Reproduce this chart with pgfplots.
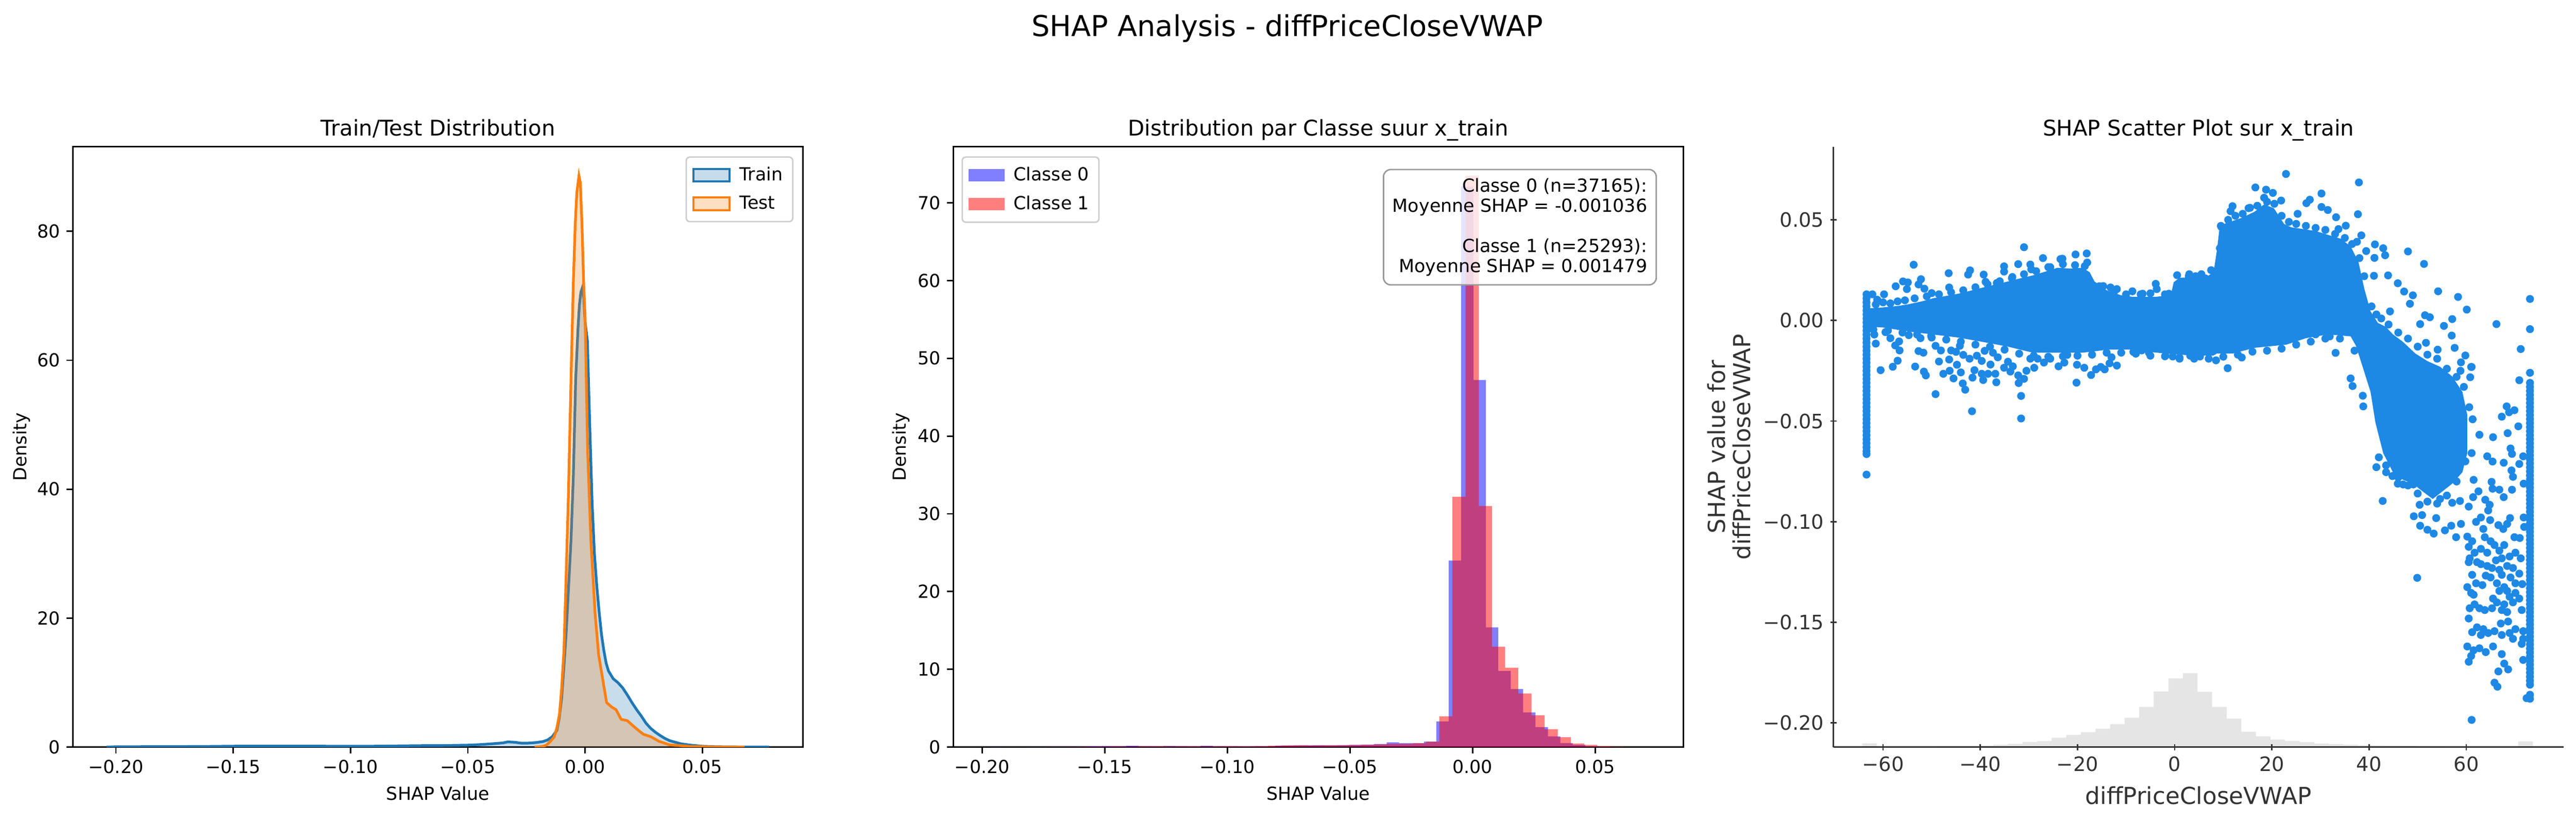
\documentclass[border=0pt]{standalone}
\usepackage{pgfplots}
\pgfplotsset{compat=1.18}
\usepackage{pgfplotstable}
\usepackage{fontspec}
\setmainfont{DejaVu Sans}
\definecolor{tblue}{HTML}{1F77B4}
\definecolor{torange}{HTML}{FF7F0E}
\definecolor{shapblue}{HTML}{1E88E5}
\definecolor{spinegray}{HTML}{333333}
\newcommand{\tenpt}{\fontsize{10pt}{12pt}\selectfont}
\newcommand{\elevenpt}{\fontsize{11pt}{13.2pt}\selectfont}
\newcommand{\twelvept}{\fontsize{12pt}{14.4pt}\selectfont}
\newcommand{\thirteenpt}{\fontsize{13pt}{14pt}\selectfont}
\newcommand{\sixteenpt}{\fontsize{16pt}{19.2pt}\selectfont}

\pgfplotsset{mpl/.style={
  scale only axis, width=405.84pt, height=333.6pt, anchor=south west,
  axis line style={line width=0.8pt},
  every tick/.style={black, line width=0.8pt},
  major tick length=3.5pt, tick align=outside, tick pos=left,
  minor tick num=0, scaled ticks=false,
  ticklabel style={font=\tenpt},
  every axis title/.style={at={(0.5,1)}, anchor=base, yshift=6pt, font=\twelvept},
}}

% ---------- KDE (panel 1) ----------
\pgfplotstableread{
x y
-0.2040 0
-0.2000 0.05
-0.1900 0.06
-0.1800 0.07
-0.1700 0.08
-0.1600 0.10
-0.1500 0.14
-0.1400 0.15
-0.1300 0.16
-0.1200 0.15
-0.1100 0.14
-0.1000 0.13
-0.0900 0.14
-0.0800 0.18
-0.0700 0.22
-0.0600 0.24
-0.0500 0.30
-0.0450 0.38
-0.0400 0.50
-0.0350 0.65
-0.0330 0.80
-0.0300 0.75
-0.0270 0.60
-0.0240 0.62
-0.0210 0.70
-0.0180 0.85
-0.0160 1.1
-0.0140 1.6
-0.0120 2.6
-0.0110 4.5
-0.0100 7.5
-0.0090 12.5
-0.0080 18.0
-0.0070 25.0
-0.0060 32.0
-0.0050 42.0
-0.0040 57.0
-0.0030 65.0
-0.0024 68.6
-0.0018 70.5
-0.0011 71.3
-0.0005 69.5
0.0000 66.0
0.0010 63.0
0.0020 50.0
0.0030 38.0
0.0040 30.0
0.0050 25.0
0.0060 21.0
0.0070 17.5
0.0080 15.0
0.0090 13.0
0.0100 11.8
0.0120 10.6
0.0140 10.0
0.0160 9.2
0.0180 8.1
0.0200 6.9
0.0220 5.8
0.0240 4.8
0.0260 3.7
0.0280 2.9
0.0300 2.3
0.0320 1.8
0.0340 1.35
0.0360 1.0
0.0380 0.8
0.0410 0.5
0.0450 0.3
0.0500 0.13
0.0550 0.06
0.0600 0.03
0.0700 0.01
0.0785 0
}\trainkde

\pgfplotstableread{
x y
-0.0215 0
-0.0200 0.02
-0.0180 0.10
-0.0165 0.30
-0.0150 0.80
-0.0131 1.6
-0.0120 3.0
-0.0109 5.1
-0.0100 9.0
-0.0090 15.0
-0.0082 24.9
-0.0071 39.0
-0.0058 60.0
-0.0050 72.0
-0.0042 81.0
-0.0035 86.0
-0.0026 88.6
-0.0020 87.5
-0.0013 81.0
-0.0006 72.0
0.0000 67.0
0.0011 46.0
0.0025 31.9
0.0043 20.6
0.0058 14.3
0.0074 10.8
0.0092 6.9
0.0114 6.2
0.0132 5.8
0.0154 4.3
0.0180 4.1
0.0214 3.0
0.0248 2.0
0.0281 1.6
0.0315 0.9
0.0360 0.35
0.0450 0.10
0.0550 0.03
0.0680 0
}\testkde

% ---------- histograms (panel 2), left bin edges ----------
\pgfplotstableread{
x y
-0.19689 0.03
-0.19183 0.02
-0.18677 0.02
-0.18171 0.03
-0.17666 0.03
-0.17160 0.05
-0.16654 0.05
-0.16148 0.06
-0.15642 0.12
-0.15137 0.13
-0.14631 0.14
-0.14125 0.17
-0.13619 0.13
-0.13113 0.12
-0.12608 0.15
-0.12102 0.13
-0.11596 0.12
-0.11090 0.16
-0.10584 0.12
-0.10079 0.12
-0.09573 0.10
-0.09067 0.11
-0.08561 0.10
-0.08055 0.18
-0.07550 0.20
-0.07044 0.22
-0.06538 0.24
-0.06032 0.22
-0.05526 0.25
-0.05021 0.28
-0.04515 0.32
-0.04009 0.40
-0.03503 0.62
-0.02997 0.50
-0.02492 0.50
-0.01986 0.70
-0.01480 3.3
-0.00974 24.0
-0.00468 72.1
0.00038 47.2
0.00543 15.4
0.01049 9.8
0.01555 7.45
0.02061 4.46
0.02566 2.56
0.03072 1.38
0.03578 0.52
0.04084 0.28
0.04590 0.10
0.05095 0.04
0.05601 0
}\histzero

\pgfplotstableread{
x y
-0.19617 0.02
-0.19080 0.00
-0.18543 0.02
-0.18006 0.02
-0.17469 0.03
-0.16932 0.04
-0.16395 0.05
-0.15858 0.06
-0.15321 0.08
-0.14784 0.10
-0.14247 0.08
-0.13710 0.10
-0.13173 0.12
-0.12636 0.10
-0.12099 0.10
-0.11562 0.12
-0.11025 0.10
-0.10488 0.12
-0.09951 0.12
-0.09414 0.10
-0.08877 0.14
-0.08340 0.18
-0.07803 0.22
-0.07266 0.24
-0.06729 0.22
-0.06192 0.24
-0.05655 0.24
-0.05118 0.26
-0.04581 0.30
-0.04044 0.35
-0.03507 0.42
-0.02970 0.42
-0.02433 0.50
-0.01896 0.70
-0.01359 3.94
-0.00822 32.2
-0.00285 73.5
0.00252 31.0
0.00789 12.9
0.01326 10.2
0.01863 6.9
0.02400 4.1
0.02937 2.3
0.03474 1.28
0.04011 0.47
0.04548 0.28
0.05085 0.14
0.05622 0.05
0.06159 0.02
0.06696 0.01
0.07233 0
}\histone

% ---------- feature histogram behind scatter (panel 3), heights in px ----------
\pgfplotstableread{
x h
-64.3 8.7
-61.3 1.5
-58.3 1.5
-55.3 1.5
-52.3 1.5
-49.3 2.2
-46.3 2.2
-43.3 2.2
-40.3 3.3
-37.3 5.4
-34.3 7.6
-31.3 12
-28.3 14
-25.3 21.7
-22.3 28
-19.3 34.7
-16.3 42.3
-13.3 53
-10.3 68
-7.3 93
-4.3 129
-1.3 159
1.7 171
4.7 128
7.7 93
10.7 66
13.7 35.5
16.7 24.8
19.7 17.7
22.7 14.2
25.7 11.5
28.7 8.5
31.7 7
34.7 5.5
37.7 4.5
40.7 4
43.7 3.5
46.7 3
49.7 2.5
52.7 2
55.7 1.5
58.7 1.5
61.7 1
64.7 1
67.7 1
70.7 13
73.7 0
}\feathist

% ---------- dense core of the scatter (outline of the solid region) ----------
\pgfplotstableread{
x y
-63.0 0.0060
-60 0.0065
-57 0.0072
-54.7 0.0081
-52 0.0095
-49.6 0.0111
-47 0.0122
-44.5 0.0133
-42 0.0148
-39.4 0.0164
-37 0.0178
-34.3 0.0194
-32 0.0208
-29.2 0.0224
-27 0.0240
-24.1 0.0262
-21.5 0.0258
-19 0.0262
-17.5 0.0240
-16.5 0.0194
-13.9 0.0149
-11 0.0125
-8.8 0.0118
-3.7 0.0118
-0.8 0.0126
-0.2 0.0190
1 0.0212
4 0.0216
6.5 0.0216
8.0 0.0240
8.7 0.0350
9.2 0.0454
10.2 0.0480
13.8 0.0510
16.4 0.0540
18.4 0.0577
20.4 0.0558
22.5 0.0480
24 0.0463
26.5 0.0454
29.1 0.0444
31.6 0.0425
34.2 0.0406
36.2 0.0368
37.8 0.0292
39.0 0.0159
40.3 0.0045
41.8 -0.0012
43.4 -0.0031
44.9 -0.0069
47 -0.0107
49.5 -0.0164
52 -0.0202
54.6 -0.0230
57.1 -0.0278
59.2 -0.0355
60.2 -0.0469
60.2 -0.0659
59.2 -0.0754
57.1 -0.0811
55.1 -0.0849
53.1 -0.0887
51 -0.0849
49 -0.0811
47 -0.0792
44.9 -0.0754
42.9 -0.0659
41.3 -0.0507
40.3 -0.0355
38.8 -0.0240
37.3 -0.0126
36.2 -0.0079
31.6 -0.0069
27 -0.0088
23 -0.0120
16.4 -0.0136
12 -0.0164
8.7 -0.0164
8 -0.0174
4 -0.0174
1 -0.0170
-3.7 -0.0160
-8.8 -0.0145
-13.9 -0.0145
-17 -0.0155
-19 -0.0160
-24.1 -0.0160
-29.2 -0.0160
-34.3 -0.0130
-39.4 -0.0107
-44.5 -0.0085
-49.6 -0.0070
-54.7 -0.0055
-60 -0.0035
-63.0 -0.0030
}\core

% ---------- individual scatter points ----------
\pgfplotstableread{
x y
-63.4 0.013
-63.4 0.011
-63.4 0.009
-63.4 0.007
-63.4 0.005
-63.4 0.003
-63.4 0.001
-63.4 -0.001
-63.4 -0.003
-63.4 -0.005
-63.4 -0.007
-63.4 -0.009
-63.4 -0.011
-63.4 -0.013
-63.4 -0.015
-63.4 -0.017
-63.4 -0.019
-63.4 -0.021
-63.4 -0.023
-63.4 -0.025
-63.4 -0.027
-63.4 -0.029
-63.4 -0.031
-63.4 -0.033
-63.4 -0.035
-63.4 -0.037
-63.4 -0.039
-63.4 -0.041
-63.4 -0.043
-63.4 -0.045
-63.4 -0.047
-63.4 -0.049
-63.4 -0.051
-63.4 -0.053
-63.4 -0.055
-63.4 -0.057
-63.4 -0.059
-63.4 -0.061
-63.4 -0.063
-63.4 -0.065
-63.4 -0.0664
-63.4 -0.0766
73.1 0.0107
73.1 -0.0043
73.1 -0.026
73.1 -0.031
73.1 -0.033
73.1 -0.035
73.1 -0.037
73.1 -0.039
73.1 -0.041
73.1 -0.043
73.1 -0.045
73.1 -0.047
73.1 -0.049
73.1 -0.051
73.1 -0.053
73.1 -0.055
73.1 -0.057
73.1 -0.059
73.1 -0.061
73.1 -0.063
73.1 -0.065
73.1 -0.067
73.1 -0.069
73.1 -0.071
73.1 -0.073
73.1 -0.075
73.1 -0.077
73.1 -0.079
73.1 -0.081
73.1 -0.083
73.1 -0.085
73.1 -0.087
73.1 -0.089
73.1 -0.091
73.1 -0.093
73.1 -0.095
73.1 -0.097
73.1 -0.099
73.1 -0.101
73.1 -0.103
73.1 -0.105
73.1 -0.107
73.1 -0.109
73.1 -0.111
73.1 -0.113
73.1 -0.115
73.1 -0.117
73.1 -0.119
73.1 -0.121
73.1 -0.123
73.1 -0.125
73.1 -0.127
73.1 -0.129
73.1 -0.131
73.1 -0.133
73.1 -0.135
73.1 -0.137
73.1 -0.139
73.1 -0.141
73.1 -0.143
73.1 -0.145
73.1 -0.147
73.1 -0.149
73.1 -0.151
73.1 -0.153
73.1 -0.155
73.1 -0.157
73.1 -0.159
73.1 -0.161
73.1 -0.163
73.1 -0.165
73.1 -0.167
73.1 -0.169
73.1 -0.171
73.1 -0.173
73.1 -0.175
73.1 -0.177
73.1 -0.179
73.1 -0.181
73.1 -0.186
73.1 -0.188
-62.2 0.0130
-59.8 0.0130
-61.2 0.0103
-57.4 0.0170
-55.9 0.0194
-54.9 0.0189
-55.1 0.0156
-53.7 0.0277
-52.2 0.0205
-52.7 0.0179
-51.5 0.0158
-50.0 0.0136
-46.5 0.0235
-46.4 0.0164
-42.1 0.0249
-42.5 0.0228
-39.3 0.0228
-38.9 0.0192
-36.6 0.0186
-35.1 0.0269
-35.1 0.0243
-33.4 0.0216
-32.2 0.0280
-31.0 0.0364
-29.7 0.0278
-29.5 0.0254
-27.1 0.0310
-25.6 0.0265
-23.5 0.0305
-23.1 0.0307
-20.4 0.0328
-18.1 0.0333
-18.0 0.0288
-14.7 0.0171
-13.2 0.0164
-11.9 0.0156
-8.7 0.0145
-6.6 0.0133
-3.9 0.0182
-3.7 0.0156
-1.2 0.0133
1.3 0.0186
2.9 0.0220
4.3 0.0220
6.3 0.0209
9.3 0.0359
-61.8 -0.0070
-61.5 -0.0115
-60.5 -0.0247
-59.5 -0.0058
-58.5 -0.0088
-57.5 -0.0124
-56.7 -0.0104
-56.6 -0.0149
-57.0 -0.0200
-58.0 -0.0230
-54.7 -0.0073
-52.7 -0.0152
-51.7 -0.0160
-53.4 -0.0229
-51.6 -0.0254
-51.2 -0.0273
-52.3 -0.0088
-50.1 -0.0077
-49.2 -0.0126
-48.1 -0.0149
-48.5 -0.0204
-49.2 -0.0366
-47.6 -0.0265
-46.4 -0.0194
-46.3 -0.0250
-46.0 -0.0149
-45.5 -0.0288
-45.0 -0.0156
-44.8 -0.0220
-44.2 -0.0126
-44.0 -0.0258
-43.6 -0.0313
-43.5 -0.0171
-43.1 -0.0344
-42.2 -0.0190
-41.7 -0.0451
-41.6 -0.0284
-41.2 -0.0247
-40.7 -0.0175
-39.7 -0.0201
-39.4 -0.0296
-39.7 -0.0265
-39.1 -0.0151
-38.4 -0.0265
-37.9 -0.0219
-37.4 -0.0160
-36.9 -0.0265
-36.7 -0.0307
-36.4 -0.0183
-35.1 -0.0235
-34.3 -0.0205
-33.8 -0.0254
-33.3 -0.0228
-32.1 -0.0311
-32.2 -0.0273
-31.6 -0.0375
-31.6 -0.0487
-31.0 -0.0290
-30.5 -0.0250
-29.7 -0.0190
-28.9 -0.0235
-28.2 -0.0190
-26.9 -0.0209
-25.6 -0.0190
-23.9 -0.0228
-22.7 -0.0209
-22.1 -0.0171
-20.2 -0.0309
-20.1 -0.0220
-18.6 -0.0235
-17.2 -0.0271
-16.2 -0.0243
-15.2 -0.0231
-14.4 -0.0243
-13.0 -0.0183
-13.4 -0.0213
-11.9 -0.0224
-8.5 -0.0156
-6.8 -0.0149
-5.3 -0.0160
-1.9 -0.0175
-0.4 -0.0179
1.0 -0.0190
3.2 -0.0175
5.2 -0.0179
8.5 -0.0198
22.9 0.0728
37.9 0.0686
16.6 0.0661
18.8 0.0650
20.2 0.0634
21.9 0.0596
18.4 0.0610
30.2 0.0631
27.8 0.0600
27.1 0.0583
30.2 0.0564
31.5 0.0549
11.9 0.0568
15.2 0.0558
9.6 0.0465
11.5 0.0543
25.3 0.0530
33.2 0.0513
37.7 0.0528
35.2 0.0471
33.7 0.0454
38.4 0.0423
37.5 0.0391
39.4 0.0345
41.2 0.0378
42.9 0.0359
43.3 0.0324
41.1 0.0311
48.0 0.0343
51.3 0.0281
43.9 0.0224
41.0 0.0222
45.9 0.0185
54.2 0.0145
47.2 0.0144
49.0 0.0125
58.3 0.0117
48.4 0.0083
60.1 0.0054
44.3 0.0045
51.5 0.0026
52.5 0.0016
57.1 0.0007
55.4 -0.0027
66.2 -0.0018
50.5 -0.0018
57.0 -0.0075
51.7 -0.0111
54.1 -0.0145
57.6 -0.0136
59.8 -0.0174
71.2 -0.0142
58.9 -0.0208
61.0 -0.0231
60.8 -0.0282
70.9 -0.0297
58.8 -0.0250
10.9 -0.0237
13.8 -0.0184
33.1 -0.0161
29.0 -0.0069
31.9 -0.0079
36.2 -0.0288
36.6 -0.0326
38.7 -0.0374
38.8 -0.0427
41.5 -0.0729
42.8 -0.0897
43.5 -0.0754
44.8 -0.0773
45.9 -0.0811
47.0 -0.0815
49.1 -0.0815
49.2 -0.0973
50.4 -0.0916
50.9 -0.0967
50.5 -0.1020
52.0 -0.1040
53.3 -0.1059
53.8 -0.0982
55.6 -0.1043
56.9 -0.1020
57.9 -0.1077
58.9 -0.1011
54.6 -0.0887
57.1 -0.0906
58.7 -0.0897
60.5 -0.0925
61.5 -0.0792
61.4 -0.0878
62.5 -0.0849
61.1 -0.0659
61.3 -0.0491
60.6 -0.0431
61.1 -0.0231
49.9 -0.1279
62.7 -0.0568
65.5 -0.0580
64.3 -0.0675
65.4 -0.0701
67.3 -0.0478
68.3 -0.0427
69.9 -0.0446
68.8 -0.0456
68.5 -0.0560
70.7 -0.0526
69.1 -0.0636
69.4 -0.0663
67.7 -0.0707
71.7 -0.0675
70.9 -0.0713
69.3 -0.0745
69.6 -0.0777
71.8 -0.0811
65.2 -0.0802
65.4 -0.0836
66.8 -0.0841
67.7 -0.0878
69.4 -0.0841
63.9 -0.0891
64.8 -0.0916
64.5 -0.0944
63.0 -0.0979
62.0 -0.1001
63.5 -0.1036
64.9 -0.0992
66.6 -0.1017
67.6 -0.1036
69.0 -0.0982
68.4 -0.1011
71.8 -0.0979
71.9 -0.1026
60.2 -0.1074
61.2 -0.1097
60.5 -0.1125
61.7 -0.1154
63.0 -0.1135
63.8 -0.1077
65.0 -0.1097
64.3 -0.1154
65.8 -0.1116
66.8 -0.1144
67.8 -0.1116
67.3 -0.1182
66.1 -0.1192
68.9 -0.1173
69.9 -0.1077
71.0 -0.1081
70.1 -0.1154
71.2 -0.1182
60.7 -0.1182
60.5 -0.1201
62.2 -0.1201
63.0 -0.1211
64.3 -0.1220
65.3 -0.1230
66.8 -0.1239
68.4 -0.1220
69.6 -0.1230
61.2 -0.1264
64.0 -0.1268
65.0 -0.1277
67.3 -0.1264
69.1 -0.1277
70.9 -0.1258
62.0 -0.1306
63.3 -0.1315
66.3 -0.1306
67.8 -0.1325
70.1 -0.1306
71.5 -0.1310
60.2 -0.1325
61.0 -0.1354
61.5 -0.1363
66.8 -0.1344
68.4 -0.1344
68.9 -0.1373
70.1 -0.1354
65.5 -0.1382
66.3 -0.1401
67.8 -0.1411
69.6 -0.1401
70.9 -0.1382
61.7 -0.1411
62.7 -0.1430
63.8 -0.1439
65.3 -0.1430
67.3 -0.1439
68.4 -0.1449
71.4 -0.1439
60.7 -0.1430
60.5 -0.1481
62.2 -0.1525
63.5 -0.1534
61.2 -0.1549
63.0 -0.1563
64.5 -0.1553
65.8 -0.1544
67.1 -0.1506
68.6 -0.1496
68.9 -0.1553
70.1 -0.1534
71.7 -0.1544
67.3 -0.1563
69.6 -0.1582
71.7 -0.1582
71.4 -0.1607
60.2 -0.1620
61.5 -0.1639
62.7 -0.1629
64.0 -0.1648
65.5 -0.1620
61.0 -0.1667
60.5 -0.1696
67.3 -0.1658
67.8 -0.1705
68.6 -0.1734
66.6 -0.1744
71.7 -0.1687
65.8 -0.1800
66.4 -0.1820
61.1 -0.1985
72.4 -0.1877
-61.5 0.0080
-60 0.0090
-58.5 0.0085
-57 0.0095
-55.5 0.0100
-53.5 0.0110
-51 0.0120
-48.5 0.0130
-46 0.0140
-43.5 0.0150
-41 0.0165
-38.5 0.0180
-36 0.0195
-33.5 0.0210
-31 0.0230
-28.5 0.0245
-26 0.0265
-23 0.0280
-20.5 0.0275
-18.5 0.0270
-15.5 0.0170
-12.5 0.0140
-10 0.0130
-7 0.0130
-5 0.0135
-2 0.0130
0.5 0.0225
3 0.0230
5.5 0.0230
7.5 0.0250
-62 -0.0045
-59 -0.0050
-56 -0.0060
-53 -0.0070
-50 -0.0085
-47 -0.0095
-44 -0.0105
-41 -0.0120
-38 -0.0130
-35 -0.0145
-32 -0.0165
-29 -0.0175
-26 -0.0180
-23 -0.0178
-20 -0.0175
-17 -0.0170
-14 -0.0160
-11 -0.0160
-8 -0.0165
-5 -0.0175
-2 -0.0178
1 -0.0185
4 -0.0190
7 -0.0190
10 -0.0180
13 -0.0170
16 -0.0155
19 -0.0150
22 -0.0140
25 -0.0120
28 -0.0105
31 -0.0090
34 -0.0090
37 -0.0150
40.5 0.0070
41.5 0.0030
42.5 0.0010
44 -0.0020
46 -0.0060
48 -0.0090
50 -0.0130
52 -0.0170
54 -0.0190
56 -0.0240
58 -0.0280
59.5 -0.0330
42 -0.0680
43.5 -0.0720
46 -0.0780
48 -0.0820
50 -0.0860
52 -0.0900
54 -0.0910
56 -0.0870
58 -0.0800
59.8 -0.0700
9.5 0.0470
11 0.0500
12.5 0.0520
14 0.0530
15.5 0.0560
17 0.0570
19 0.0590
20.5 0.0580
22 0.0520
23.5 0.0490
25 0.0480
27 0.0470
29 0.0460
31 0.0450
33 0.0430
35 0.0410
36.5 0.0380
38 0.0310
39 0.0220
}\dots

\begin{document}
\begin{tikzpicture}
\path[use as bounding box] (0,0) rectangle (1432.08pt,456.72pt);

\node[font=\sixteenpt, anchor=base] at (715.7pt,436.6pt) {SHAP Analysis - diffPriceCloseVWAP};

% ================= Panel 1 =================
\begin{axis}[mpl, at={(40.56pt,41.52pt)},
  xmin=-0.2183, xmax=0.0929, ymin=0, ymax=93.1,
  xtick={-0.2,-0.15,-0.1,-0.05,0,0.05},
  xticklabels={−0.20,−0.15,−0.10,−0.05,0.00,0.05},
  ytick={0,20,40,60,80}, yticklabels={0,20,40,60,80},
  title={Train/Test Distribution},
  xlabel={SHAP Value}, ylabel={Density},
  every axis x label/.style={at={(axis description cs:0.5,-0.0773)}, anchor=center, font=\tenpt},
  every axis y label/.style={at={(axis description cs:-0.0704,0.5)}, rotate=90, anchor=center, font=\tenpt},
  legend image code/.code={\draw[#1] (0pt,-3.5pt) rectangle (20pt,3.5pt);},
  legend style={at={(1,1)}, anchor=north east, xshift=-5.3pt, yshift=-5.3pt,
    draw=black!20, line width=0.8pt, rounded corners=2pt, fill=white, fill opacity=0.8, text opacity=1,
    font=\tenpt, inner xsep=3.5pt, inner ysep=3.5pt, row sep=3pt,
    /tikz/every odd column/.append style={column sep=3pt}},
  legend cell align=left,
]
\addplot[draw=none, fill=tblue, fill opacity=0.25, forget plot] table {\trainkde} \closedcycle;
\addplot[tblue, line width=1.5pt, forget plot] table {\trainkde};
\addplot[draw=none, fill=torange, fill opacity=0.25, forget plot] table {\testkde} \closedcycle;
\addplot[torange, line width=1.5pt, forget plot] table {\testkde};
\addlegendimage{fill=tblue, fill opacity=0.25, draw=tblue, draw opacity=1, line width=1.2pt, sharp corners}
\addlegendentry{Train}
\addlegendimage{fill=torange, fill opacity=0.25, draw=torange, draw opacity=1, line width=1.2pt, sharp corners}
\addlegendentry{Test}
\end{axis}

% ================= Panel 2 =================
\begin{axis}[mpl, at={(529.92pt,41.52pt)},
  xmin=-0.2118, xmax=0.0859, ymin=0, ymax=77.2,
  xtick={-0.2,-0.15,-0.1,-0.05,0,0.05},
  xticklabels={−0.20,−0.15,−0.10,−0.05,0.00,0.05},
  ytick={0,10,20,30,40,50,60,70}, yticklabels={0,10,20,30,40,50,60,70},
  title={Distribution par Classe suur x\_train},
  xlabel={SHAP Value}, ylabel={Density},
  every axis x label/.style={at={(axis description cs:0.5,-0.0773)}, anchor=center, font=\tenpt},
  every axis y label/.style={at={(axis description cs:-0.0718,0.5)}, rotate=90, anchor=center, font=\tenpt},
  legend image code/.code={\fill[#1, draw=none] (0pt,-3.5pt) rectangle (20pt,3.5pt);},
  legend style={at={(0,1)}, anchor=north west, xshift=4.6pt, yshift=-5.3pt,
    draw=black!20, line width=0.8pt, rounded corners=2pt, fill=white, fill opacity=0.8, text opacity=1,
    font=\tenpt, inner xsep=3.5pt, inner ysep=3.5pt, row sep=3pt,
    /tikz/every odd column/.append style={column sep=3pt}},
  legend cell align=left,
]
\addplot[ybar interval, fill=blue, fill opacity=0.5, draw=none, forget plot] table {\histzero};
\addplot[ybar interval, fill=red, fill opacity=0.5, draw=none, forget plot] table {\histone};
\addlegendimage{fill=blue, fill opacity=0.5, draw=none, sharp corners}
\addlegendentry{Classe 0}
\addlegendimage{fill=red, fill opacity=0.5, draw=none, sharp corners}
\addlegendentry{Classe 1}
\node[anchor=north east, align=right, draw=black!40, line width=0.8pt, rounded corners=4pt,
  fill=white, fill opacity=0.8, text opacity=1, inner sep=5pt,
  font=\fontsize{10pt}{11.1pt}\selectfont] at (axis description cs:0.964,0.9633)
  {Classe 0 (n=37165):\\Moyenne SHAP = -0.001036\\\mbox{}\\Classe 1 (n=25293):\\Moyenne SHAP = 0.001479};
\end{axis}

% ================= Panel 3: feature histogram (background) =================
\begin{axis}[scale only axis, width=405.84pt, height=333.6pt, anchor=south west,
  at={(1019.28pt,41.52pt)}, xmin=-70.2, xmax=80, ymin=0, ymax=1390, hide axis]
\addplot[ybar interval, fill=black!10, draw=none] table[x=x, y=h] {\feathist};
\end{axis}

% ================= Panel 3: scatter =================
\begin{axis}[mpl, at={(1019.28pt,41.52pt)},
  axis x line=bottom, axis y line=left,
  axis line style={-, spinegray, line width=0.8pt},
  every tick/.style={spinegray, line width=0.8pt},
  xmin=-70.2, xmax=80, ymin=-0.2120, ymax=0.0863,
  xtick={-60,-40,-20,0,20,40,60},
  xticklabels={−60,−40,−20,0,20,40,60},
  ytick={-0.2,-0.15,-0.1,-0.05,0,0.05},
  yticklabels={−0.20,−0.15,−0.10,−0.05,0.00,0.05},
  ticklabel style={font=\elevenpt, text=spinegray},
  title={SHAP Scatter Plot sur x\_train},
  xlabel={diffPriceCloseVWAP}, ylabel={SHAP value for\\diffPriceCloseVWAP},
  every axis x label/.style={at={(axis description cs:0.5,-0.0806)}, anchor=center, font=\thirteenpt, text=spinegray},
  every axis y label/.style={at={(axis description cs:-0.143,0.5)}, rotate=90, anchor=center, align=center, font=\thirteenpt, text=spinegray},
]
\addplot[fill=shapblue, draw=none] table {\core};
\addplot[only marks, mark=*, mark size=2pt, color=shapblue, draw=shapblue, fill=shapblue] table {\dots};
\end{axis}

\end{tikzpicture}
\end{document}
